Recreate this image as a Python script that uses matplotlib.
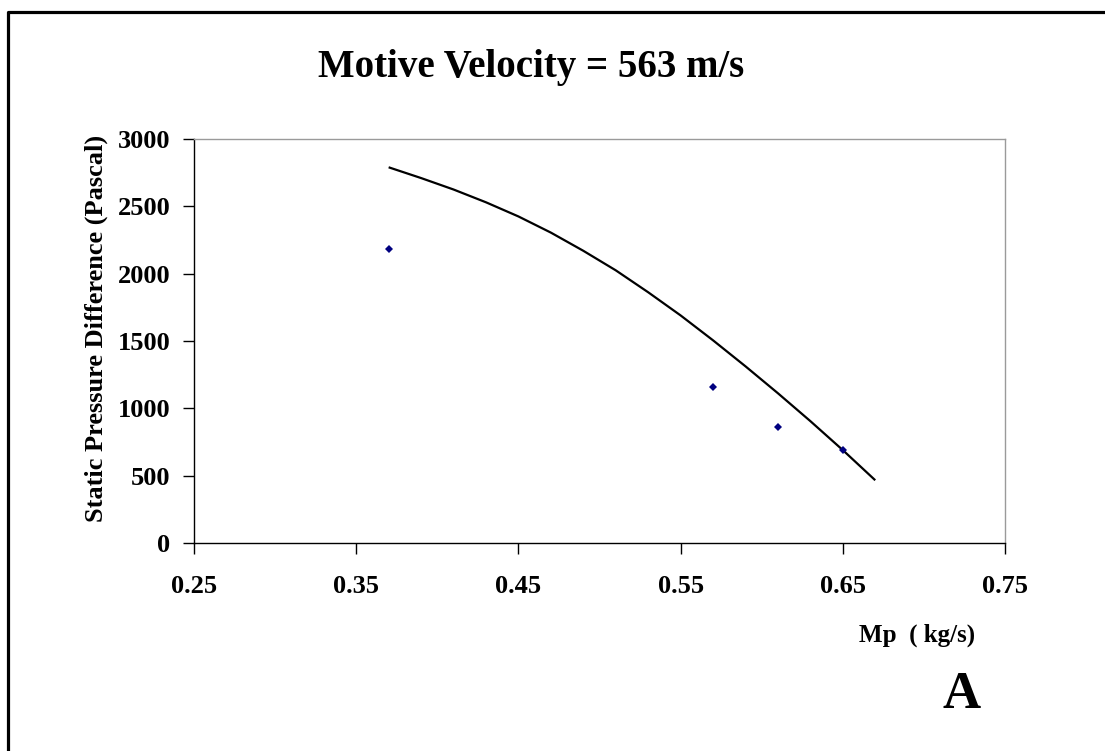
import matplotlib
matplotlib.use("Agg")
import matplotlib.pyplot as plt
from matplotlib.patches import Rectangle

# Measured data points
mp_points = [0.37, 0.57, 0.61, 0.65]
dp_points = [2180, 1155, 860, 690]

# Curve
mp_curve = [0.37, 0.39, 0.41, 0.43, 0.45, 0.47, 0.49, 0.51, 0.53, 0.55,
            0.57, 0.59, 0.61, 0.63, 0.65, 0.67]
dp_curve = [2790, 2710, 2625, 2530, 2425, 2305, 2170, 2025, 1862, 1690,
            1505, 1312, 1112, 905, 690, 466]

x_ticks = [0.25, 0.35, 0.45, 0.55, 0.65, 0.75]
x_tick_labels = ["0.25", "0.35", "0.45", "0.55", "0.65", "0.75"]
y_ticks = [0, 500, 1000, 1500, 2000, 2500, 3000]
y_tick_labels = ["0", "500", "1000", "1500", "2000", "2500", "3000"]

title_text = "Motive Velocity = 563 m/s"
y_label = "Static Pressure Difference (Pascal)"
x_label = "Mp  ( kg/s)"
panel_label = "A"

plt.rcParams['font.family'] = ['Liberation Serif', 'DejaVu Serif']
plt.rcParams['font.weight'] = 'bold'

W, H = 1105, 751
fig = plt.figure(figsize=(W / 100, H / 100), dpi=100)
fig.patch.set_facecolor('white')

ax = fig.add_axes([194 / W, 1 - 543 / H, (1005 - 194) / W, (543 - 139) / H])
ax.plot(mp_curve, dp_curve, color='black', lw=1.6, solid_capstyle='butt',
        solid_joinstyle='round')
ax.plot(mp_points, dp_points, linestyle='none', marker='D', markersize=4.2,
        color='#000080', markeredgewidth=0)

ax.set_xlim(0.25, 0.75)
ax.set_ylim(0, 3000)
ax.set_xticks(x_ticks)
ax.set_xticklabels(x_tick_labels, fontsize=19, fontweight='bold')
ax.set_yticks(y_ticks)
ax.set_yticklabels(y_tick_labels, fontsize=19, fontweight='bold')
ax.tick_params(axis='x', direction='out', length=8, width=1, pad=15, colors='black')
ax.tick_params(axis='y', direction='out', length=8, width=1, pad=9, colors='black')

for s in ['top', 'right']:
    ax.spines[s].set_color('#9a9a9a')
    ax.spines[s].set_linewidth(1)
for s in ['left', 'bottom']:
    ax.spines[s].set_color('black')
    ax.spines[s].set_linewidth(1)

fig.text(531 / W, 1 - 77 / H, title_text, ha='center', va='baseline',
         fontsize=28, fontweight='bold')
fig.text(96 / W, 1 - 328 / H, y_label, ha='center', va='center', rotation=90,
         fontsize=19, fontweight='bold')
fig.text(917 / W, 1 - 642 / H, x_label, ha='center', va='baseline',
         fontsize=18, fontweight='bold')
fig.text(962 / W, 1 - 708 / H, panel_label, ha='center', va='baseline',
         fontsize=38, fontweight='bold')

frame = Rectangle((7.5 / W, -0.2), 2.0, 1.2 - 11.5 / H, transform=fig.transFigure,
                  fill=False, edgecolor='black', lw=2.3, clip_on=False, joinstyle='round')
fig.patches.append(frame)

fig.savefig('out.png', dpi=100, facecolor='white')
